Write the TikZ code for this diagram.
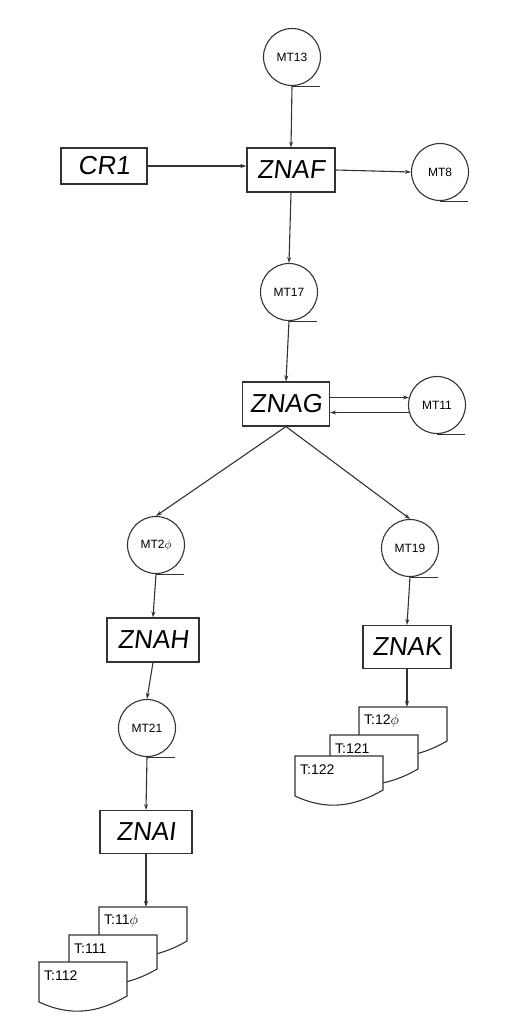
\documentclass[tikz,border=0pt]{standalone}
\usepackage{fontspec}
\setmainfont{Liberation Sans}
\newfontfamily\handfont{Liberation Sans}[FakeSlant=0.12]
\usetikzlibrary{arrows.meta}

\tikzset{
  flow/.style={draw=black!80, line width=1.1pt, -{Stealth[length=6pt,width=4pt]}},
  progbox/.style={draw=black!80, line width=1.1pt, rectangle, minimum width=88pt,
    minimum height=44pt, inner sep=0pt, font=\handfont\fontsize{26}{26}\selectfont},
  tape/.style={draw=black!80, line width=1.1pt, circle, minimum size=57pt,
    inner sep=0pt, font=\fontsize{12}{12}\selectfont},
  docline/.style={draw=black!80, line width=1.1pt, fill=white},
  doctext/.style={inner sep=0pt, anchor=west, font=\fontsize{14}{14}\selectfont}
}

% printed list: top left corner at (#2,#3)
\newcommand{\listdoc}[4]{%
  \coordinate (#1) at (#2,#3);
  \draw[docline] (#1) -- ++(88,0) -- ++(0,-34)
    to[out=210, in=-25] ++(-88,-6) -- cycle;
  \node[doctext] (#1text) at ([shift={(5,-14)}]#1) {#4};
}

\begin{document}
\begin{tikzpicture}[x=1pt, y=1pt]
    \useasboundingbox (0,0) rectangle (514,-1017);

    % upper part
    \node[progbox, minimum width=86pt, minimum height=36pt] (cr1) at (104,-166) {CR1};
    \node[progbox] (znaf) at (291,-170) {ZNAF};
    \node[tape] (mt13) at (292,-57) {MT13};
    \node[tape] (mt8) at (440,-172) {MT8};
    \node[tape] (mt17) at (289,-292) {MT17};
    \node[progbox, minimum width=87pt] (znag) at (286,-404) {ZNAG};
    \node[tape] (mt11) at (437,-405) {MT11};

    % left branch
    \node[tape] (mt20) at (156,-545) {MT2$\phi$};
    \node[progbox, minimum width=92pt] (znah) at (153,-640) {ZNAH};
    \node[tape] (mt21) at (147,-728) {MT21};
    \node[progbox, minimum width=92pt, minimum height=43pt] (znai) at (146,-832) {ZNAI};

    % right branch
    \node[tape] (mt19) at (410,-548) {MT19};
    \node[progbox, minimum height=43pt] (znak) at (407,-647) {ZNAK};

    % tape tails
    \foreach \t in {mt13,mt8,mt17,mt11,mt20,mt21,mt19}
        \draw[draw=black!80, line width=1.1pt] (\t.south) -- ++(28,0);

    % printed lists
    \listdoc{t110}{99}{-907}{T:11$\phi$}
    \listdoc{t111}{69}{-935}{T:111}
    \listdoc{t112}{39}{-962}{T:112}
    \listdoc{t120}{359}{-707}{T:12$\phi$}
    \listdoc{t121}{330}{-735}{T:121}
    \listdoc{t122}{295}{-756}{T:122}

    % connectors
    \draw[flow] (cr1.east) -- (znaf.west |- cr1.east);
    \draw[flow] (mt13.south) -- (znaf.north);
    \draw[flow] (znaf.east) -- (mt8.west);
    \draw[flow] (znaf.south) -- (mt17.north);
    \draw[flow] (mt17.south) -- (znag.north);
    \draw[flow] (znag.east |- mt11.165) -- (mt11.165);
    \draw[flow] (mt11.195) -- (znag.east |- mt11.195);
    \draw[flow] (znag.south) -- (mt20.north);
    \draw[flow] (znag.south) -- (mt19.north);
    \draw[flow] (mt20.south) -- (znah.north);
    \draw[flow] (znah.south) -- (mt21.north);
    \draw[flow] (mt21.south) -- (znai.north);
    \draw[flow] (znai.south) -- (znai.south |- t110);
    \draw[flow] (mt19.south) -- (znak.north);
    \draw[flow] (znak.south) -- (znak.south |- t120);
\end{tikzpicture}
\end{document}
